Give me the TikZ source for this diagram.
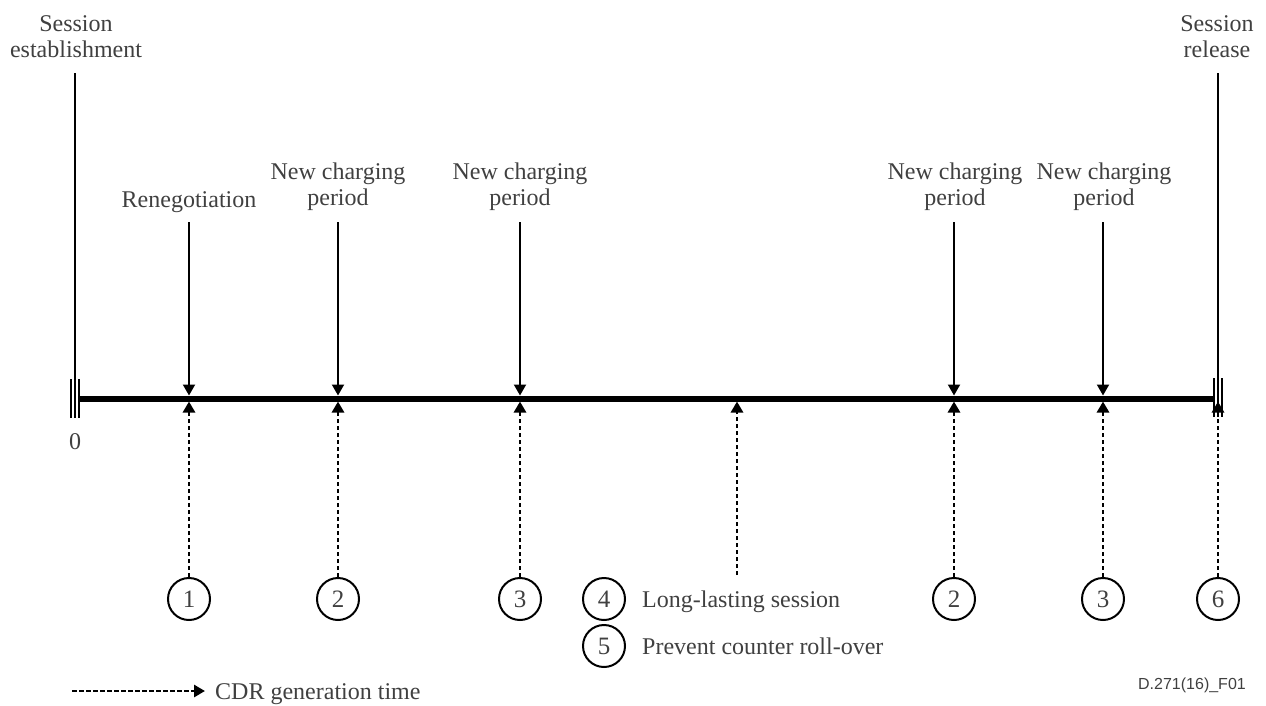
\documentclass[tikz,border=0pt]{standalone}
\usepackage{fontspec}
\setmainfont{Liberation Serif}
\newfontfamily\figsans{Liberation Sans}
\usetikzlibrary{arrows.meta}
\definecolor{txtgray}{HTML}{404040}
\tikzset{
  lbl/.style={text=txtgray, font=\fontsize{24}{26}\selectfont, align=center, inner sep=0pt, anchor=base},
  timeline/.style={line width=6pt},
  eventline/.style={line width=2pt, -{Triangle[length=11pt,width=12pt]}},
  sessline/.style={line width=2pt},
  cdrline/.style={line width=2.8pt, dash pattern=on 4.5pt off 2.5pt, -{Triangle[length=11pt,width=12pt]}},
  num/.style={circle, draw, line width=2pt, minimum size=42pt, inner sep=0pt, text=txtgray, font=\fontsize{25}{26}\selectfont},
  bars/.style={line width=1.6pt}
}
\begin{document}
\begin{tikzpicture}[x=1pt,y=-1pt]
\useasboundingbox (0,0) rectangle (1266,705);

% timeline
\coordinate (tl) at (79,398.5);
\coordinate (tr) at (1214,398.5);
\draw[timeline] (tl) -- (tr);
% end bars
\draw[bars] (71,379) -- (71,418) (75,379) -- (75,418) (79,379) -- (79,418);
\draw[bars] (1214,378) -- (1214,417) (1218,378) -- (1218,417) (1222,378) -- (1222,417);

% session labels and lines
\node[lbl] (sest) at (76,57) {Session\\establishment};
\node[lbl] (srel) at (1217,57) {Session\\release};
\coordinate (sestTop) at (75,73);
\coordinate (sestBot) at (75,398.5);
\coordinate (srelTop) at (1218,73);
\coordinate (srelBot) at (1218,398.5);
\draw[sessline] (sestTop) -- (sestBot);
\draw[sessline] (srelTop) -- (srelBot);
\node[lbl] (zero) at (75,449) {0};

% events
\node[lbl] (ren) at (189,207) {Renegotiation};
\node[lbl] (ncp1) at (338,205) {New charging\\period};
\node[lbl] (ncp2) at (520,205) {New charging\\period};
\node[lbl] (ncp3) at (955,205) {New charging\\period};
\node[lbl] (ncp4) at (1104,205) {New charging\\period};

\foreach \n/\x in {a/189,b/338,c/520,d/954,e/1103}{
  \coordinate (top\n) at (\x,222);
  \coordinate (dn\n) at (\x,395.5);
  \draw[eventline] (top\n) -- (dn\n);
}

% circles
\node[num] (c1) at (189,599) {1};
\node[num] (c2) at (338,599) {2};
\node[num] (c3) at (520,599) {3};
\node[num] (c4) at (604,599) {4};
\node[num] (c5) at (604,646) {5};
\node[num] (c2b) at (954,599) {2};
\node[num] (c3b) at (1103,599) {3};
\node[num] (c6) at (1218,599) {6};
\node[lbl, anchor=base west] (t4) at (642,607) {Long-lasting session};
\node[lbl, anchor=base west] (t5) at (642,654) {Prevent counter roll-over};

% CDR arrows
\coordinate (up1) at (189,401.5);
\coordinate (up2) at (338,401.5);
\coordinate (up3) at (520,401.5);
\coordinate (up4) at (737,401.5);
\coordinate (up2b) at (954,401.5);
\coordinate (up3b) at (1103,401.5);
\coordinate (up6) at (1218,401.5);
\coordinate (c45) at (737,575);
\draw[cdrline] (c1.north) -- (up1);
\draw[cdrline] (c2.north) -- (up2);
\draw[cdrline] (c3.north) -- (up3);
\draw[cdrline] (c45) -- (up4);
\draw[cdrline] (c2b.north) -- (up2b);
\draw[cdrline] (c3b.north) -- (up3b);
\draw[cdrline] (c6.north) -- (up6);

% legend
\coordinate (lgs) at (72,691);
\coordinate (lge) at (205,691);
\draw[cdrline] (lgs) -- (lge);
\node[lbl, anchor=base west] (lgt) at (215,699) {CDR generation time};
\node[text=txtgray, font=\figsans\fontsize{16}{18}\selectfont, inner sep=0pt, anchor=base east] (fig) at (1246,689) {D.271(16)\_F01};
\end{tikzpicture}
\end{document}
